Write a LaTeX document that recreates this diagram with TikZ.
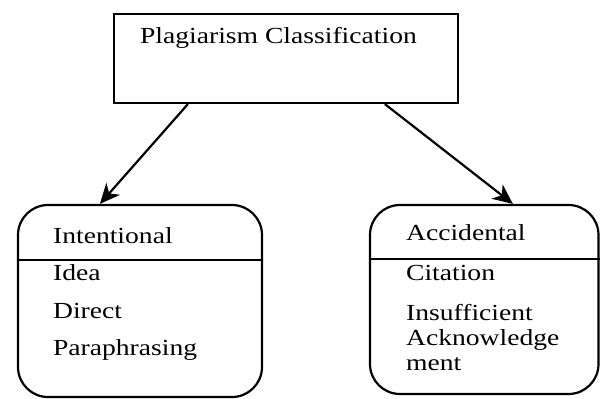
\documentclass[tikz,border=0pt]{standalone}
\usepackage{fontspec}
\setmainfont{Liberation Serif}[FakeStretch=1.2]
\usetikzlibrary{calc, arrows.meta}

\begin{document}
\begin{tikzpicture}[x=0.5pt, y=-0.5pt, line width=1.1pt,
  typebox/.style={draw, rounded corners=15pt, inner sep=0pt},
  txt/.style={anchor=base west, inner sep=0pt, font=\fontsize{11.5}{12.5}\selectfont},
  arr/.style={-{Stealth[length=10pt, width=9pt, inset=3pt]}}]
\useasboundingbox (0,0) rectangle (600,398);

% root
\node[draw, inner sep=0pt, minimum width=172pt, minimum height=44.5pt] (cls) at (286,58.5) {};
\node[txt] (clstitle) at (139,43) {Plagiarism Classification};

% two kinds
\node[typebox, minimum width=122pt, minimum height=96pt] (intl) at (140,301) {};
\node[typebox, minimum width=114.25pt, minimum height=94.5pt] (accd) at (484.25,299.5) {};
\draw ($(intl.north west)+(0,56)$) -- ($(intl.north east)+(0,56)$);
\draw ($(accd.north west)+(0,55)$) -- ($(accd.north east)+(0,55)$);

\node[txt] (intlhead) at (52,243) {Intentional};
\node[txt] (idea) at (52,280) {Idea};
\node[txt] (direct) at (52,318) {Direct};
\node[txt] (para) at (52,355) {Paraphrasing};

\node[txt] (accdhead) at (405,240) {Accidental};
\node[txt] (cite) at (405,280) {Citation};
\node[txt, anchor=north west, align=left, yshift=-0.8pt] (insuff) at (405,302) {Insufficient\\Acknowledge\\ment};

% arrows
\draw[arr] ($(cls.south west)+(75,0)$) -- ($(intl.north west)+(83,0)$);
\draw[arr] ($(cls.south west)+(272,0)$) -- ($(accd.north west)+(144,0)$);
\end{tikzpicture}
\end{document}
